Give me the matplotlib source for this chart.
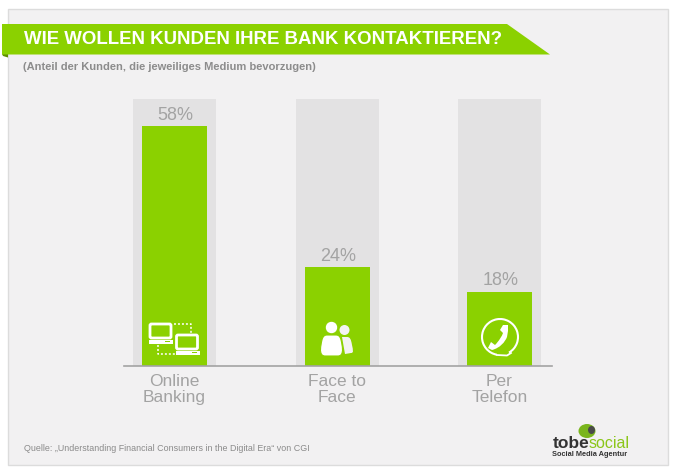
import matplotlib
matplotlib.use("Agg")
import matplotlib.pyplot as plt
from matplotlib.patches import Polygon, Rectangle, Circle, FancyBboxPatch, Ellipse, Arc, PathPatch
from matplotlib.path import Path

categories = ["Online\nBanking", "Face to\nFace", "Per\nTelefon"]
shares = [58, 24, 18]
value_labels = ["58%", "24%", "18%"]
title = "WIE WOLLEN KUNDEN IHRE BANK KONTAKTIEREN?"
subtitle = "(Anteil der Kunden, die jeweiliges Medium bevorzugen)"
source = "Quelle: \u201eUnderstanding Financial Consumers in the Digital Era\u201c von CGI"

GREEN = "#8bd100"
GREY_TXT = "#a3a3a3"
W, H = 675, 473
plt.rcParams["font.family"] = ["Liberation Sans", "DejaVu Sans"]

fig = plt.figure(figsize=(W / 100, H / 100), dpi=100, facecolor="white")

# full-figure pixel overlay for page decoration
bg = fig.add_axes([0, 0, 1, 1], zorder=0)
bg.set_xlim(0, W); bg.set_ylim(H, 0); bg.axis("off")
bg.add_patch(Rectangle((7.5, 9), 660, 456, fc="#f2f1f2", ec="#dcdcdc", lw=1))
bg.add_patch(Polygon([(2, 54), (8, 54), (8, 57.5), (3, 56)], fc="#5f8f00", ec="none"))
bg.add_patch(Polygon([(2, 24), (507, 24), (550, 54.5), (2, 54.5)], fc=GREEN, ec="none"))
bg.text(24, 39.5, title, color="white", fontsize=13.4, fontweight="bold", va="center", ha="left")
bg.text(23, 66.5, subtitle, color="#8c8c8c", fontsize=8.05, fontweight="bold", va="center", ha="left")
bg.text(24, 448, source, color="#8a8a8a", fontsize=6.4, va="center", ha="left")

# chart axes: baseline y=366, grey columns top y=99
x0, x1, ytop, ybase = 124, 552, 99, 366
ax = fig.add_axes([x0 / W, 1 - ybase / H, (x1 - x0) / W, (ybase - ytop) / H], zorder=1)
ax.patch.set_alpha(0)
ymax = 64.6
px_per_cat = 162.5
positions = list(range(len(categories)))
ax.set_xlim(-(174.5 - x0) / px_per_cat, (x1 - 174.5) / px_per_cat)
ax.set_ylim(0, ymax)
ax.bar(positions, [ymax] * len(positions), width=83 / px_per_cat, color="#e3e2e3", zorder=1)
ax.bar(positions, shares, width=65 / px_per_cat, color=GREEN, zorder=2)
for p, v, lab in zip(positions, shares, value_labels):
    ax.annotate(lab, (p, v), xytext=(0.7, 1.6), textcoords="offset points",
                ha="center", va="bottom", color=GREY_TXT, fontsize=13, zorder=3)
ax.set_xticks(positions)
ax.set_xticklabels(categories, color=GREY_TXT, fontsize=12.5, linespacing=1.15)
ax.tick_params(axis="x", length=0, pad=5.5)
ax.set_yticks([])
for s in ["top", "left", "right"]:
    ax.spines[s].set_visible(False)
ax.spines["bottom"].set_color("#a3a3a3")
ax.spines["bottom"].set_linewidth(1.2)
ax.spines["bottom"].set_zorder(4)

# icons, in pixel coordinates
ic = fig.add_axes([0, 0, 1, 1], zorder=2)
ic.set_xlim(0, W); ic.set_ylim(H, 0); ic.axis("off"); ic.patch.set_alpha(0)

def computer(x, y):
    ic.add_patch(FancyBboxPatch((x + 1, y + 1), 21, 14, boxstyle="round,pad=0,rounding_size=1.5",
                                fc="none", ec="white", lw=2))
    ic.add_patch(Rectangle((x, y + 17), 24, 4, fc="white", ec="none"))
    ic.add_patch(Rectangle((x + 16, y + 18.3), 5, 1, fc=GREEN, ec="none"))

computer(149, 323)
computer(175.5, 334)
dot = dict(color="white", lw=1.1, ls=(0, (1.3, 1.3)))
ic.plot([174, 191, 191], [323.5, 323.5, 333], **dot)
ic.plot([158, 158, 175], [345, 354, 354], **dot)

# people
M, L, C, Z = Path.MOVETO, Path.LINETO, Path.CURVE4, Path.CLOSEPOLY
ic.add_patch(Circle((344.5, 330), 5, fc="#f3f3f3", ec="none"))
ic.add_patch(PathPatch(Path(
    [(342, 337), (347, 337), (350, 337), (351, 339), (352, 345),
     (353, 350), (354, 353), (351, 353), (345, 354), (342, 337)],
    [M, L, C, C, C, C, C, C, L, L]), fc="#f3f3f3", ec="none"))
ic.add_patch(Circle((331.5, 327.5), 6.3, fc="white", ec=GREEN, lw=0.8))
ic.add_patch(PathPatch(Path(
    [(327, 335), (336, 335),
     (340, 335), (341, 338), (342, 345),
     (343, 350), (343, 356), (338, 356),
     (325, 356),
     (320, 356), (320, 350), (321, 345),
     (322, 338), (323, 335), (327, 335), (327, 335)],
    [M, L, C, C, C, C, C, C, L, C, C, C, C, C, C, Z]), fc="white", ec=GREEN, lw=0.8))

# phone
ic.add_patch(Arc((500, 337), 36, 36, theta1=100, theta2=60, color="white", lw=1.5))
ic.plot([497, 507, 511], [355, 355.5, 353], color="white", lw=1.3)
ic.add_patch(PathPatch(Path(
    [(503, 325), (508, 325), (508, 331), (507, 337),
     (505, 342), (500, 348), (492, 350),
     (488, 348), (491, 342), (495, 345),
     (499, 341), (502, 336), (503, 333),
     (500, 330), (503, 325), (503, 325)],
    [M, L, L, L, C, C, C, L, L, L, C, C, C, L, L, Z]), fc="white", ec="none"))

# logo
ic.add_patch(Ellipse((587, 431), 17, 14, fc="#7ab51d", ec="none"))
ic.add_patch(Ellipse((591.5, 430), 7, 8, fc="#4a4a4a", ec="none"))
ic.text(553, 443.5, "tobe", color="#333333", fontsize=12.5, fontweight="bold", va="center", ha="left")
ic.text(589, 443.5, "social", color="#8bc61a", fontsize=11.5, va="center", ha="left")
ic.text(590, 454, "Social Media Agentur", color="#333333", fontsize=5.3, fontweight="bold", va="center", ha="center")

fig.savefig("out.png", dpi=100)
